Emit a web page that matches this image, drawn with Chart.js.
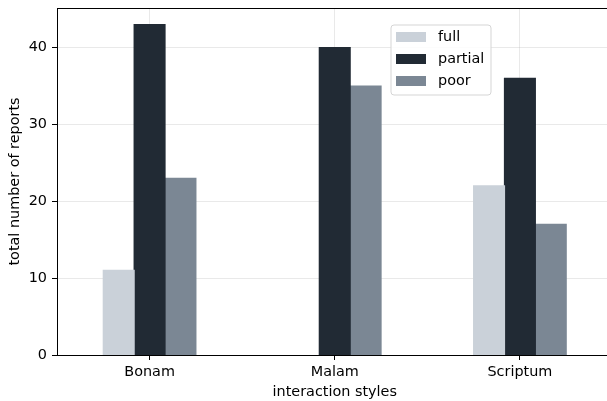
<!DOCTYPE html>
<html>
<head>
<meta charset="utf-8">
<script src="https://cdn.jsdelivr.net/npm/chart.js@4/dist/chart.umd.min.js"></script>
<style>
  html, body { margin: 0; padding: 0; background: #fff; overflow: hidden; }
  #wrap { width: 607px; height: 401px; overflow: hidden; position: relative; }
  #box { width: 620px; height: 401px; position: absolute; left: 0; top: 0; }
</style>
</head>
<body>
<div id="wrap"><div id="box"><canvas id="c"></canvas></div></div>
<script>
// Report counts per interaction style
const categories = ['Bonam', 'Malam', 'Scriptum'];
const fullReports = [11, 0, 22];
const partialReports = [43, 40, 36];
const poorReports = [23, 35, 17];
const yTicks = [0, 10, 20, 30, 40];

const seriesNames = ['full', 'partial', 'poor'];
const seriesColors = ['#cad1d9', '#212a34', '#7b8794'];
const FONT = 'DejaVu Sans, sans-serif';
const FS = 14.4;

// Axis frame: left, bottom, top and right spines
const framePlugin = {
  id: 'frame',
  afterDraw(chart) {
    const { ctx, chartArea: a } = chart;
    ctx.save();
    ctx.strokeStyle = '#000';
    ctx.lineWidth = 1;
    ctx.strokeRect(Math.round(a.left) + 0.5, Math.round(a.top) + 0.5,
                   Math.round(a.right - a.left), Math.round(a.bottom - a.top));
    ctx.restore();
  }
};

// Boxed legend placed inside the plot
const legendBoxPlugin = {
  id: 'legendBox',
  afterDraw(chart) {
    const { ctx } = chart;
    const x = 391, y = 25, w = 100, h = 70, r = 3;
    ctx.save();
    ctx.beginPath();
    ctx.moveTo(x + r, y);
    ctx.arcTo(x + w, y, x + w, y + h, r);
    ctx.arcTo(x + w, y + h, x, y + h, r);
    ctx.arcTo(x, y + h, x, y, r);
    ctx.arcTo(x, y, x + w, y, r);
    ctx.closePath();
    ctx.fillStyle = 'rgba(255,255,255,0.85)';
    ctx.fill();
    ctx.strokeStyle = '#d5d5d5';
    ctx.lineWidth = 1;
    ctx.stroke();
    ctx.font = FS + 'px ' + FONT;
    ctx.textBaseline = 'middle';
    chart.data.datasets.forEach((ds, i) => {
      const cy = 37 + i * 22;
      ctx.fillStyle = ds.backgroundColor;
      ctx.fillRect(396, cy - 5, 30, 10);
      ctx.fillStyle = '#000';
      ctx.fillText(ds.label, 438, cy);
    });
    ctx.restore();
  }
};

new Chart(document.getElementById('c'), {
  type: 'bar',
  data: {
    labels: categories,
    datasets: [
      { label: seriesNames[0], data: fullReports, backgroundColor: seriesColors[0] },
      { label: seriesNames[1], data: partialReports, backgroundColor: seriesColors[1] },
      { label: seriesNames[2], data: poorReports, backgroundColor: seriesColors[2] }
    ]
  },
  options: {
    responsive: true,
    maintainAspectRatio: false,
    animation: false,
    devicePixelRatio: 1,
    layout: { padding: { left: 0, top: 8, right: 7.5, bottom: 0 } },
    datasets: { bar: { categoryPercentage: 0.5, barPercentage: 1.0, borderWidth: 0,
                       inflateAmount: (c) => (c.raw === 0 ? 0 : 0.6) } },
    plugins: {
      legend: { display: false },
      tooltip: { enabled: false }
    },
    scales: {
      x: {
        z: 1,
        offset: true,
        grid: { color: 'rgba(176,176,176,0.28)', lineWidth: 1, offset: false,
                drawTicks: true, tickLength: 5, tickColor: '#000', tickWidth: 1 },
        border: { display: false },
        ticks: { color: '#000', font: { family: FONT, size: FS }, padding: 4 },
        title: { display: true, text: 'interaction styles', color: '#000',
                 font: { family: FONT, size: FS }, padding: { top: 1, bottom: 0 } },
        afterFit(s) { s.height = 46; s.paddingLeft = 0; s.paddingRight = 0; }
      },
      y: {
        z: 1,
        min: 0,
        max: 45.15,
        afterBuildTicks(s) { s.ticks = yTicks.map(v => ({ value: v })); },
        grid: { color: 'rgba(176,176,176,0.28)', lineWidth: 1,
                drawTicks: true, tickLength: 5, tickColor: '#000', tickWidth: 1 },
        border: { display: false },
        ticks: { color: '#000', font: { family: FONT, size: FS }, padding: 5 },
        title: { display: true, text: 'total number of reports', color: '#000',
                 font: { family: FONT, size: FS }, padding: { top: 7, bottom: 0 } },
        afterFit(s) { s.width = 57; s.paddingTop = 0; s.paddingBottom = 0; }
      }
    }
  },
  plugins: [framePlugin, legendBoxPlugin]
});
</script>
</body>
</html>
